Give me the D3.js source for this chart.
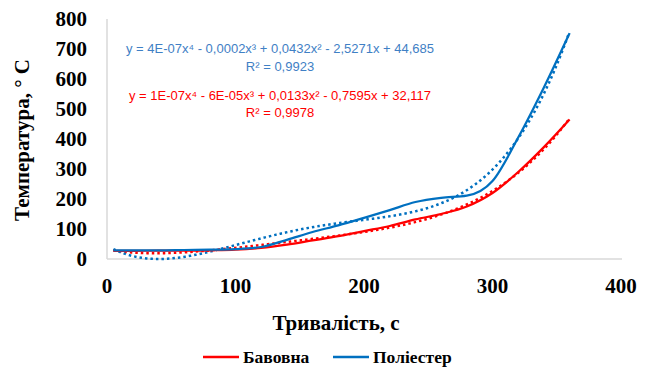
<!DOCTYPE html>
<html>
<head>
<meta charset="utf-8">
<script src="https://cdn.jsdelivr.net/npm/d3@7/dist/d3.min.js"></script>
<style>
  body { margin: 0; background: #fff; }
  text { font-family: "Liberation Serif", "Times New Roman", serif; }
</style>
</head>
<body>
<div id="chart"></div>
<script>
// time, s
const times = [5, 20, 40, 60, 80, 100, 120, 140, 160, 180, 200, 220, 240, 260, 280, 300, 320, 340, 360];
const cotton = [27, 27, 28, 28, 29, 31, 37, 48, 62, 76, 93, 110, 132, 150, 175, 220, 290, 373, 465];
const polyester = [29, 29, 29, 30, 31, 33, 40, 64, 90, 112, 137, 163, 190, 204, 211, 260, 405, 572, 753];
const seriesNames = ['Бавовна', 'Поліестер'];
const xTicks = [0, 100, 200, 300, 400];
const yTicks = [0, 100, 200, 300, 400, 500, 600, 700, 800];
// printed trendline coefficients c0..c4 (c3, c4 are rounded on the chart)
const cottonCoefs = [32.117, -0.7595, 0.0133, -6e-5, 1e-7];
const polyesterCoefs = [44.685, -2.5271, 0.0432, -0.0002, 4e-7];
const equations = [
  'y = 1E-07x⁴ - 6E-05x³ + 0,0133x² - 0,7595x + 32,117',
  'y = 4E-07x⁴ - 0,0002x³ + 0,0432x² - 2,5271x + 44,685'
];
const rSquared = ['R² = 0,9978', 'R² = 0,9923'];

const width = 650, height = 372;
const margin = {top: 19, right: 28, bottom: 113, left: 107};
const colors = ['#ff0000', '#0070c0'];
const labelColors = ['#ff0000', '#3f80c5'];

const svg = d3.select('#chart').append('svg')
  .attr('width', width)
  .attr('height', height);

const x = d3.scaleLinear().domain([0, 400]).range([margin.left, 621]);
const y = d3.scaleLinear().domain([0, 800]).range([height - margin.bottom, margin.top]);

// axis lines (no ticks)
svg.append('line')
  .attr('x1', x(0)).attr('x2', x(0))
  .attr('y1', y(800)).attr('y2', y(0))
  .attr('stroke', '#d9d9d9').attr('stroke-width', 1.5);
svg.append('line')
  .attr('x1', x(0)).attr('x2', x(400) + 1)
  .attr('y1', y(0)).attr('y2', y(0))
  .attr('stroke', '#d9d9d9').attr('stroke-width', 1.5);

// tick labels
svg.append('g')
  .selectAll('text')
  .data(yTicks)
  .enter()
  .append('text')
  .attr('x', 87)
  .attr('y', d => y(d) + 7)
  .attr('text-anchor', 'end')
  .style('font-size', '21px')
  .style('font-weight', 'bold')
  .text(d => d);

svg.append('g')
  .selectAll('text')
  .data(xTicks)
  .enter()
  .append('text')
  .attr('x', d => x(d))
  .attr('y', 293)
  .attr('text-anchor', 'middle')
  .style('font-size', '21px')
  .style('font-weight', 'bold')
  .text(d => d);

// axis titles
svg.append('text')
  .attr('transform', 'translate(29,140) rotate(-90)')
  .attr('text-anchor', 'middle')
  .style('font-size', '21px')
  .style('font-weight', 'bold')
  .text('Температура, ° С');

svg.append('text')
  .attr('x', 336)
  .attr('y', 330)
  .attr('text-anchor', 'middle')
  .style('font-size', '21px')
  .style('font-weight', 'bold')
  .text('Тривалість, с');

// keep the precise low-order coefficients, refit the rounded x³ and x⁴ terms
function refit(coefs, xs, ys) {
  let a11 = 0, a12 = 0, a22 = 0, b1 = 0, b2 = 0;
  xs.forEach((t, k) => {
    const r = ys[k] - (coefs[0] + coefs[1] * t + coefs[2] * t * t);
    const p3 = Math.pow(t / 100, 3), p4 = Math.pow(t / 100, 4);
    a11 += p3 * p3; a12 += p3 * p4; a22 += p4 * p4;
    b1 += p3 * r; b2 += p4 * r;
  });
  const det = a11 * a22 - a12 * a12;
  const k3 = (b1 * a22 - b2 * a12) / det;
  const k4 = (a11 * b2 - a12 * b1) / det;
  const c3 = k3 / 1e6, c4 = k4 / 1e8;
  return t => coefs[0] + coefs[1] * t + coefs[2] * t * t + c3 * t * t * t + c4 * t * t * t * t;
}

const allSeries = [cotton, polyester];
const allCoefs = [cottonCoefs, polyesterCoefs];

const line = d3.line()
  .x(d => x(d[0]))
  .y(d => y(d[1]))
  .curve(d3.curveMonotoneX);

allSeries.forEach((vals, i) => {
  const f = refit(allCoefs[i], times, vals);
  const trend = d3.range(times[0], times[times.length - 1] + 0.5, 2).map(t => [t, f(t)]);
  svg.append('path')
    .datum(trend)
    .attr('fill', 'none')
    .attr('stroke', colors[i])
    .attr('stroke-width', 2.5)
    .attr('stroke-dasharray', '2.5 3')
    .attr('d', d3.line().x(d => x(d[0])).y(d => y(d[1])));
});

allSeries.forEach((vals, i) => {
  svg.append('path')
    .datum(times.map((t, k) => [t, vals[k]]))
    .attr('fill', 'none')
    .attr('stroke', colors[i])
    .attr('stroke-width', 2.25)
    .attr('d', line);
});

// trendline labels
const eqY = [[96, 113], [49, 67]];
[1, 0].forEach(i => {
  svg.append('text')
    .attr('x', 280)
    .attr('y', eqY[i][0] + 4)
    .attr('text-anchor', 'middle')
    .attr('fill', labelColors[i])
    .style('font-family', '"Liberation Sans", Arial, sans-serif')
    .style('font-size', '13px')
    .text(equations[i]);
  svg.append('text')
    .attr('x', 280)
    .attr('y', eqY[i][1] + 4)
    .attr('text-anchor', 'middle')
    .attr('fill', labelColors[i])
    .style('font-family', '"Liberation Sans", Arial, sans-serif')
    .style('font-size', '13px')
    .text(rSquared[i]);
});

// legend
const legendX = [203, 333];
seriesNames.forEach((name, i) => {
  const g = svg.append('g').attr('transform', `translate(${legendX[i]},357)`);
  g.append('line')
    .attr('x1', 0).attr('x2', 36)
    .attr('y1', 0).attr('y2', 0)
    .attr('stroke', colors[i])
    .attr('stroke-width', 2.5);
  g.append('text')
    .attr('x', 40)
    .attr('y', 6)
    .style('font-size', '17.5px')
    .style('font-weight', 'bold')
    .text(name);
});
</script>
</body>
</html>
